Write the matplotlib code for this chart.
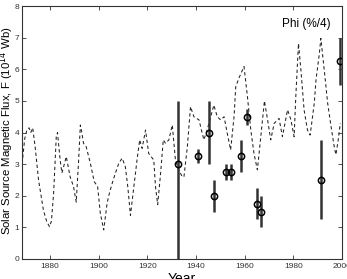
import numpy as np
import matplotlib
matplotlib.use('Agg')
import matplotlib.pyplot as plt

plt.rcParams['font.family'] = ['Liberation Sans', 'DejaVu Sans']

# courbe pointillee (flux reconstruit)
years = [1868.7, 1869.5, 1870.4, 1871.3, 1872.0, 1872.8, 1873.8, 1875.2, 1877.2, 1878.5,
         1879.7, 1880.5, 1881.4, 1882.5, 1883.0, 1884.1, 1884.8, 1885.8, 1886.6, 1888.2,
         1889.6, 1890.7, 1891.7, 1892.4, 1893.0, 1893.7, 1894.8, 1896.5, 1898.1, 1899.5,
         1900.6, 1902.0, 1903.4, 1904.4, 1905.9, 1906.8, 1908.2, 1909.6, 1910.9, 1911.9,
         1913.0, 1914.4, 1915.7, 1916.8, 1917.8, 1919.2, 1920.5, 1922.6, 1923.3, 1924.2,
         1925.4, 1926.5, 1927.4, 1928.8, 1930.2, 1931.5, 1933.0, 1934.3, 1935.0, 1936.4,
         1937.7, 1939.1, 1941.2, 1942.5, 1943.2, 1944.6, 1946.0, 1947.3, 1948.7, 1950.1,
         1951.5, 1952.8, 1954.2, 1955.6, 1956.3, 1957.6, 1959.7, 1961.1, 1962.5, 1963.8,
         1965.2, 1966.6, 1968.1, 1969.4, 1970.7, 1972.1, 1974.1, 1975.5, 1977.6, 1979.0,
         1980.3, 1981.0, 1982.1, 1983.1, 1984.4, 1985.8, 1986.9, 1988.6, 1989.3, 1990.7,
         1991.3, 1992.7, 1994.1, 1995.5, 1996.8, 1997.5, 1998.5, 1999.3]
flux = [3.2, 3.8, 4.08, 4.15, 4.0, 4.15, 3.55, 2.5, 1.55, 1.2,
        1.02, 1.2, 2.08, 3.87, 4.0, 3.13, 2.72, 3.0, 3.24, 2.6,
        2.29, 1.8, 3.13, 4.24, 4.0, 3.66, 3.55, 3.03, 2.45, 2.29,
        1.45, 0.92, 1.77, 2.1, 2.5, 2.71, 3.03, 3.19, 2.92, 2.29,
        1.38, 2.29, 3.13, 3.77, 3.5, 4.08, 3.34, 3.13, 2.29, 1.72,
        2.71, 3.77, 3.66, 3.77, 4.24, 3.13, 2.8, 2.6, 2.6, 3.55,
        4.82, 4.5, 4.4, 3.98, 3.77, 4.1, 4.5, 4.87, 4.5, 4.4,
        4.5, 3.98, 3.45, 4.5, 5.45, 5.72, 6.09, 5.14, 4.08, 3.34,
        2.82, 3.87, 5.0, 4.4, 3.77, 4.29, 4.45, 3.87, 4.72, 4.4,
        3.87, 5.14, 6.82, 5.98, 4.72, 4.08, 3.92, 4.93, 5.66, 6.51,
        6.98, 5.98, 4.93, 4.19, 3.55, 3.3, 3.8, 4.3]

# points Phi avec barres d'erreur
phi_years = [1932.5, 1940.7, 1945.3, 1947.3, 1952.2, 1954.5, 1958.6, 1960.8, 1965.2, 1966.6, 1991.3, 1999.2]
phi_vals = [3.0, 3.25, 4.0, 2.0, 2.75, 2.75, 3.25, 4.5, 1.75, 1.5, 2.5, 6.25]
err_low = [3.0, 0.22, 1.0, 0.5, 0.25, 0.25, 0.5, 0.25, 0.5, 0.5, 1.25, 0.75]
err_high = [2.0, 0.22, 1.0, 0.5, 0.25, 0.25, 0.5, 0.25, 0.5, 0.5, 1.25, 0.75]

fig = plt.figure(figsize=(3.47, 2.79), dpi=100)
ax = fig.add_axes([0.0634, 0.0717, 0.9222, 0.9063])

ax.plot(years, flux, color='#222222', lw=0.75, dashes=(3.2, 2.6))
ax.errorbar(phi_years, phi_vals, yerr=[err_low, err_high], fmt='o', color='#333333',
            ecolor='#333333', elinewidth=1.8, capsize=0, markersize=4.5,
            markerfacecolor='none', markeredgecolor='black', markeredgewidth=1.1)

ax.set_xlim(1868.4, 2000)
ax.set_ylim(0, 8)
ax.set_xticks(np.arange(1880, 2001, 20))
ax.set_yticks(np.arange(0, 9, 1))
ax.tick_params(direction='in', top=True, right=True, length=3, width=0.6,
               labelsize=6, colors='#333333')
ax.tick_params(axis='y', pad=2)
ax.tick_params(axis='x', pad=3)
for s in ax.spines.values():
    s.set_linewidth(0.8)
    s.set_color('#333333')

ax.text(0.965, 0.955, 'Phi (%/4)', transform=ax.transAxes, ha='right', va='top', fontsize=8.5)

ax.set_xlabel('Year', fontsize=10, labelpad=1)
ax.set_ylabel('Solar Source Magnetic Flux, F (10$^{14}$ Wb)', fontsize=8.2)
ax.yaxis.set_label_coords(-0.02, 0.508)

plt.savefig('out.png', dpi=100)
